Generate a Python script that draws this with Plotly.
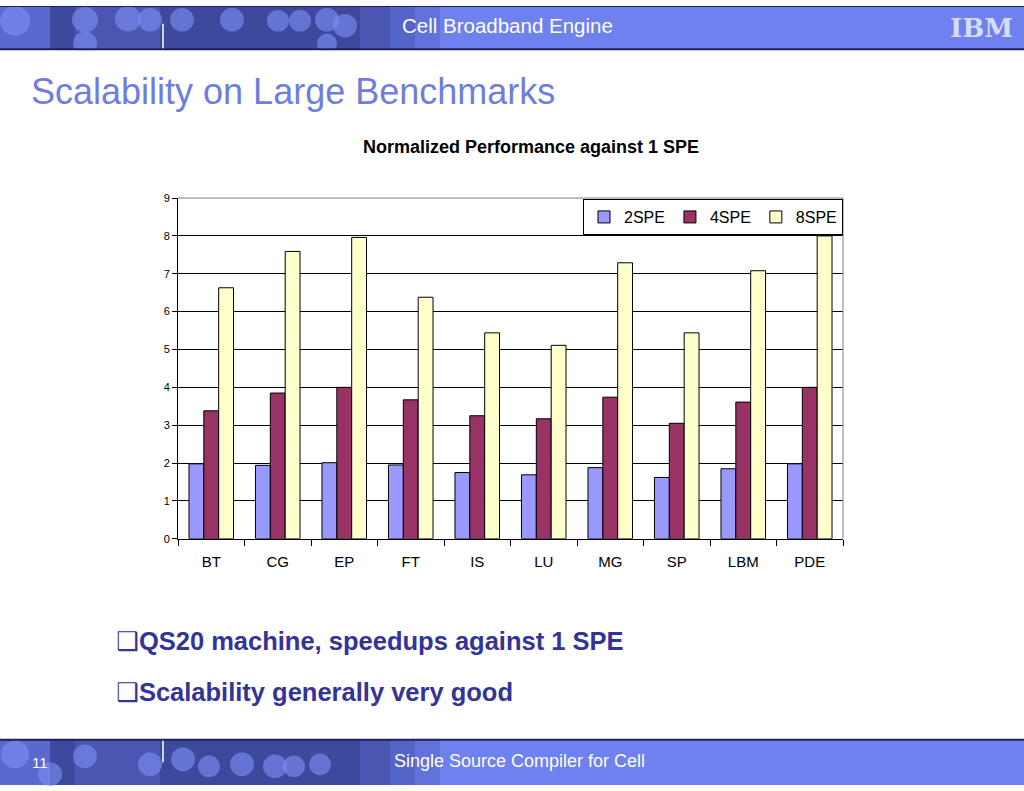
import plotly.graph_objects as go

# Benchmarks and normalized speedups (vs 1 SPE)
benchmarks = ["BT", "CG", "EP", "FT", "IS", "LU", "MG", "SP", "LBM", "PDE"]
spe2 = [1.98, 1.94, 2.01, 1.95, 1.75, 1.69, 1.88, 1.62, 1.85, 1.98]
spe4 = [3.38, 3.85, 4.00, 3.67, 3.25, 3.17, 3.74, 3.05, 3.61, 4.00]
spe8 = [6.63, 7.59, 7.96, 6.38, 5.44, 5.11, 7.29, 5.44, 7.08, 8.00]

series_names = ["2SPE", "4SPE", "8SPE"]
series_colors = ["#9999FF", "#993366", "#FFFFCC"]

W, H = 1024, 791

def px(x):
    return x / W

def py(y):
    return 1 - y / H

fig = go.Figure()
for name, vals, col in zip(series_names, [spe2, spe4, spe8], series_colors):
    fig.add_trace(go.Bar(
        x=benchmarks, y=vals, name=name,
        marker=dict(color=col, line=dict(color="black", width=1)),
    ))

shapes = []

# header / footer banners
def banner(y0, y1):
    out = [dict(type="rect", xref="paper", yref="paper", x0=0, x1=1, y0=py(y1), y1=py(y0),
                fillcolor="#6F80EF", line=dict(width=0), layer="below")]
    # darker patterned band on the left
    for xa, xb, op in [(0, 50, 0.25), (50, 75, 0.6), (75, 160, 0.45), (160, 360, 0.6),
                       (360, 390, 0.45), (390, 415, 0.3), (415, 440, 0.15)]:
        out.append(dict(type="rect", xref="paper", yref="paper", x0=px(xa), x1=px(xb),
                        y0=py(y1), y1=py(y0), fillcolor="#1C2466", opacity=op,
                        line=dict(width=0), layer="below"))
    return out

shapes += banner(0, 44)
shapes += banner(745, 791)

header_circles = [(15, 15, 15), (85, 14, 13), (85, 38, 12), (128, 13, 13), (150, 14, 12),
                  (182, 14, 12), (232, 14, 12), (278, 15, 11), (300, 15, 11), (327, 14, 12),
                  (327, 38, 10), (345, 20, 12)]
footer_circles = [(15, 760, 14), (50, 780, 12), (85, 762, 12), (150, 770, 12), (183, 765, 12),
                  (209, 772, 11), (242, 770, 12), (275, 772, 12), (294, 772, 11), (320, 770, 11)]
for cx, cy, r in header_circles + footer_circles:
    shapes.append(dict(type="circle", xref="paper", yref="paper",
                       x0=px(cx - r), x1=px(cx + r), y0=py(cy + r), y1=py(cy - r),
                       fillcolor="#8090F5", opacity=0.6, line=dict(width=0), layer="below"))

# white slide body between the banners (hides circle overflow)
shapes.append(dict(type="rect", xref="paper", yref="paper", x0=0, x1=1, y0=py(745), y1=py(45),
                   fillcolor="white", line=dict(width=0), layer="below"))

for yl in [44, 745]:
    shapes.append(dict(type="line", xref="paper", yref="paper", x0=0, x1=1, y0=py(yl), y1=py(yl),
                       line=dict(color="#1E2356", width=2), layer="below"))
shapes.append(dict(type="line", xref="paper", yref="paper", x0=0, x1=1, y0=py(0.5), y1=py(0.5),
                   line=dict(color="#1E2356", width=1), layer="below"))
shapes.append(dict(type="line", xref="paper", yref="paper", x0=px(163), x1=px(163), y0=py(18), y1=py(43),
                   line=dict(color="white", width=1.5), layer="below"))
shapes.append(dict(type="line", xref="paper", yref="paper", x0=px(163), x1=px(163), y0=py(746), y1=py(768),
                   line=dict(color="white", width=1.5), layer="below"))

# plot border top/right in grey
shapes.append(dict(type="line", xref="x domain", yref="y domain", x0=0, x1=1, y0=1, y1=1,
                   line=dict(color="#808080", width=1), layer="above"))
shapes.append(dict(type="line", xref="x domain", yref="y domain", x0=1, x1=1, y0=0, y1=1,
                   line=dict(color="#808080", width=1), layer="above"))

def note(text, x, y, size, color, family="Liberation Sans, Arial", xanchor="center"):
    return dict(text=text, x=px(x), y=py(y), xref="paper", yref="paper",
                xanchor=xanchor, yanchor="middle", showarrow=False,
                font=dict(family=family, size=size, color=color))

annotations = [
    note("Cell Broadband Engine", 507, 20, 20.5, "white"),
    note("<b>IBM</b>", 981, 22, 26, "rgba(235,238,255,0.85)", family="DejaVu Serif"),
    note("Scalability on Large Benchmarks", 29, 87, 36, "#6F7EDC", xanchor="left"),
    note("<b>Normalized Performance against 1 SPE</b>", 531, 143, 18, "black"),
    note("❑<b>QS20 machine, speedups against 1 SPE</b>", 114, 645, 25.5, "#333399",
         family="Liberation Sans, DejaVu Sans", xanchor="left"),
    note("❑<b>Scalability generally very good</b>", 114, 697, 25.5, "#333399",
         family="Liberation Sans, DejaVu Sans", xanchor="left"),
    note("11", 40, 768, 15, "white"),
    note("Single Source Compiler for Cell", 519, 767, 18, "white"),
]

fig.update_layout(
    width=W, height=H,
    margin=dict(l=0, r=0, t=0, b=0),
    paper_bgcolor="white",
    plot_bgcolor="#C0C0C0",
    barmode="group",
    bargap=0.33,
    bargroupgap=0,
    font=dict(family="Liberation Sans, Arial", color="black"),
    shapes=shapes,
    annotations=annotations,
    legend=dict(orientation="h", x=px(843), xanchor="right", y=py(196), yanchor="top",
                bgcolor="white", bordercolor="black", borderwidth=1,
                font=dict(size=16, color="black")),
    xaxis=dict(domain=[px(178), px(843)], showline=True, linecolor="black", linewidth=1,
               ticks="outside", tickson="boundaries", ticklen=6, tickcolor="black",
               tickfont=dict(size=15), ticklabelstandoff=9, showgrid=False),
    yaxis=dict(domain=[py(541), py(195)], range=[0, 9], dtick=1, showline=True,
               linecolor="black", linewidth=1, ticks="outside", ticklen=5, tickcolor="black",
               tickfont=dict(size=11), showgrid=True, gridcolor="black", gridwidth=1,
               zeroline=False),
)

# drop the default page margin so the figure sits at the window origin
fig.write_html("out.html", config={"displayModeBar": False},
               post_script="document.body.style.margin='0';")
